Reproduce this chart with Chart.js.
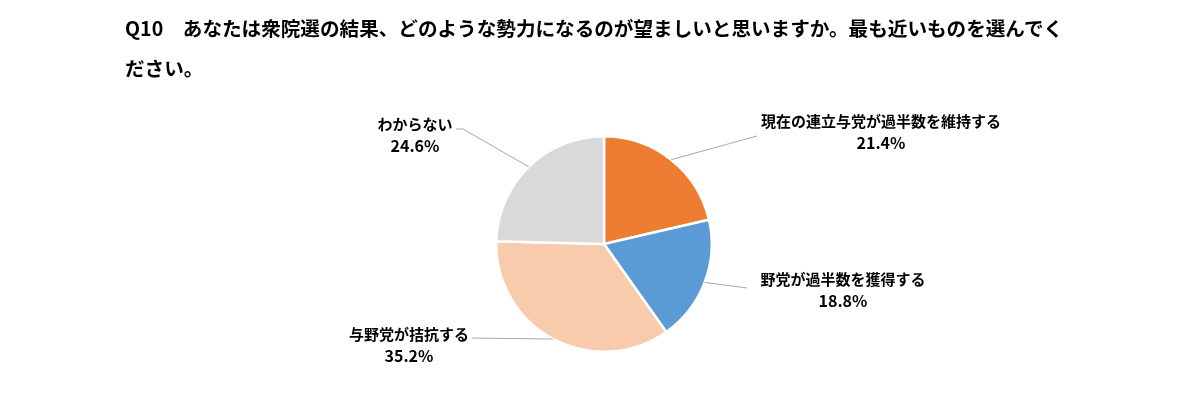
<!DOCTYPE html>
<html lang="ja">
<head>
<meta charset="utf-8">
<title>Q10 pie</title>
<script src="https://cdn.jsdelivr.net/npm/chart.js@4/dist/chart.umd.min.js"></script>
<style>
    html, body { margin:0; padding:0; background:#fff; }
    #wrap { position:relative; width:1189px; height:399px; }
    #title {
        position:absolute; left:125px; top:8px;
        font-family:"Noto Sans CJK JP", sans-serif; font-weight:bold;
        font-size:19.6px; line-height:40px; color:#000; white-space:nowrap;
    }
    #chart { position:absolute; left:0; top:0; }
</style>
</head>
<body>
<div id="wrap">
    <canvas id="chart" width="1189" height="399"></canvas>
    <div id="title">Q10　あなたは衆院選の結果、どのような勢力になるのが望ましいと思いますか。最も近いものを選んでく<br>ださい。</div>
</div>
<script>
// ---------- Data ----------
const categories = ["現在の連立与党が過半数を維持する", "野党が過半数を獲得する", "与野党が拮抗する", "わからない"];
const shares = [21.4, 18.8, 35.2, 24.6];
const colors = ["#ED7D31", "#5B9BD5", "#F8CBAD", "#D9D9D9"];

// label box centre and leader line end points (canvas px)
const labelLayout = [
    { x:881, y:121, line:[[757,136]] },
    { x:843, y:279, line:[[747,288]] },
    { x:409, y:334, line:[[472,338]] },
    { x:415, y:124, line:[[463,129],[456,129]] }
];

const FONT = '"Noto Sans CJK JP", sans-serif';

// draws leader lines and the name / percent labels
const pieLabels = {
    id: "pieLabels",
    afterDatasetsDraw(chart) {
        const ctx = chart.ctx;
        const arcs = chart.getDatasetMeta(0).data;
        ctx.save();
        arcs.forEach((arc, i) => {
            const p = arc.getProps(["x","y","startAngle","endAngle","outerRadius"], true);
            const mid = (p.startAngle + p.endAngle) / 2;
            const sx = p.x + Math.cos(mid) * p.outerRadius;
            const sy = p.y + Math.sin(mid) * p.outerRadius;
            const lay = labelLayout[i];
            ctx.strokeStyle = "#A6A6A6";
            ctx.lineWidth = 1;
            ctx.beginPath();
            ctx.moveTo(sx, sy);
            lay.line.forEach(pt => ctx.lineTo(pt[0], pt[1]));
            ctx.stroke();

            ctx.fillStyle = "#000";
            ctx.textAlign = "center";
            ctx.textBaseline = "middle";
            ctx.font = "bold 15px " + FONT;
            ctx.fillText(categories[i], lay.x, lay.y);
            ctx.font = "bold 16px " + FONT;
            ctx.fillText(shares[i].toFixed(1) + "%", lay.x, lay.y + 22);
        });
        ctx.restore();
    }
};

new Chart(document.getElementById("chart"), {
    type: "pie",
    data: {
        labels: categories,
        datasets: [{
            data: shares,
            backgroundColor: colors,
            borderColor: "#fff",
            borderWidth: 2.5
        }]
    },
    options: {
        responsive: false,
        animation: false,
        layout: { padding: { left:495, right:476, top:135, bottom:46 } },
        plugins: {
            legend: { display:false },
            tooltip: { enabled:false },
            title: { display:false }
        }
    },
    plugins: [pieLabels]
});
</script>
</body>
</html>
